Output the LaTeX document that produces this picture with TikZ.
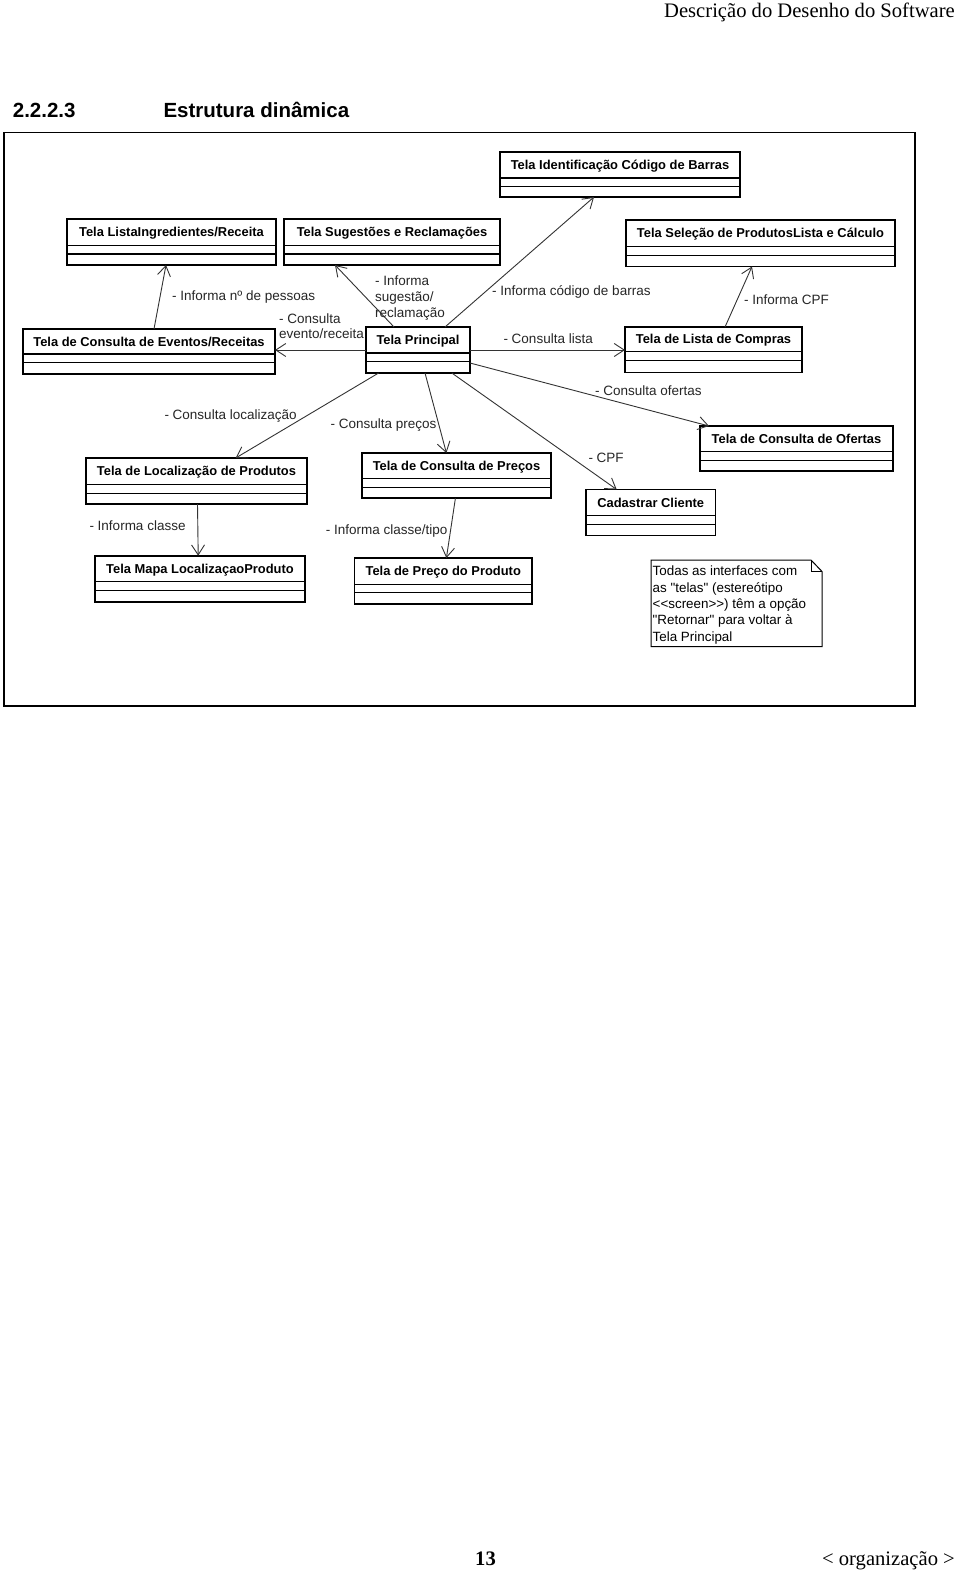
\documentclass[tikz,border=0pt]{standalone}
\usepackage{fontspec}
\setmainfont{Liberation Serif}
\newfontfamily\arialf{Liberation Sans}
\usetikzlibrary{arrows.meta,calc}
\newcommand\lblfont{\arialf\fontsize{13.5}{16}\selectfont}
\newcommand\ttlfont{\arialf\bfseries\fontsize{12.9}{15}\selectfont}
\newcommand\umlb[9][1.8pt]{%
  \node[umlbox, line width=#1, minimum width={(#5-#3)*1pt}, minimum height={(#6-#4)*1pt}] (#2) at (#3,#4) {};
  \draw[divline] ($(#2.north west)+(0,#7-#4)$) -- ($(#2.north east)+(0,#7-#4)$);
  \draw[divline] ($(#2.north west)+(0,#8-#4)$) -- ($(#2.north east)+(0,#8-#4)$);
  \node[ttl] (#2-t) at ({(#3+#5)/2},{(#4+#7)/2+4.6}) {#9};
}
\tikzset{
  umlbox/.style={draw=black, fill=white, inner sep=0pt, outer sep=0pt, anchor=north west},
  divline/.style={draw=black, line width=1.1pt},
  conn/.style={draw=black!80, line width=0.9pt, -{Straight Barb[length=10pt,width=13pt]}},
  lbl/.style={inner sep=0pt, anchor=base west, font=\lblfont, text=black!85},
  lblm/.style={inner sep=0pt, anchor=north west, font=\lblfont, text=black!85, align=left},
  ttl/.style={inner sep=0pt, anchor=base, font=\ttlfont},
}
\begin{document}
\begin{tikzpicture}[x=1pt,y=-1pt]
\useasboundingbox (0,0) rectangle (960,1573);
\fill[white] (0,0) rectangle (960,1573);

% page texts
\node[inner sep=0pt, anchor=base east, font=\fontsize{20.6}{24}\selectfont] (hdr) at (955,17.3) {Descrição do Desenho do Software};
\node[inner sep=0pt, anchor=base west, font=\arialf\bfseries\fontsize{20.5}{24}\selectfont] (secn) at (12.7,117.7) {2.2.2.3};
\node[inner sep=0pt, anchor=base west, font=\arialf\bfseries\fontsize{20.5}{24}\selectfont] (sect) at (163.3,117.7) {Estrutura dinâmica};
\node[inner sep=0pt, anchor=base west, font=\bfseries\fontsize{20.6}{24}\selectfont] (pgn) at (475,1565) {13};
\node[inner sep=0pt, anchor=base east, font=\fontsize{20.6}{24}\selectfont] (org) at (955,1565) {< organização >};

% frame
\draw[line width=1.3pt] (4,132.5) rectangle (915,706);

% boxes
\umlb{idc}{500}{152}{740}{197}{178}{186.5}{Tela Identificação Código de Barras}
\umlb{lig}{67}{219}{276}{265}{245.5}{254}{Tela ListaIngredientes/Receita}
\umlb{sug}{284}{219}{500}{265}{245.5}{254}{Tela Sugestões e Reclamações}
\umlb{sel}{626}{220}{895}{266.5}{246.5}{255.5}{Tela Seleção de ProdutosLista e Cálculo}
\umlb{eve}{23}{329}{275}{374}{354}{362.7}{Tela de Consulta de Eventos/Receitas}
\umlb[2.6pt]{prin}{366}{327}{470}{373}{353}{361.7}{Tela Principal}
\umlb{lis}{625}{327}{802}{372.5}{351.7}{360.7}{Tela de Lista de Compras}
\umlb{ofe}{700}{426}{893}{471}{451.5}{460.5}{Tela de Consulta de Ofertas}
\umlb{loc}{86}{458}{307}{504}{484.3}{493.3}{Tela de Localização de Produtos}
\umlb{cpr}{362}{453}{551}{498.3}{478.7}{487.3}{Tela de Consulta de Preços}
\umlb{cad}{586}{489.5}{715.5}{535.5}{515.7}{524.3}{Cadastrar Cliente}
\umlb{map}{95}{555.7}{305}{601.7}{581.7}{590.7}{Tela Mapa LocalizaçaoProduto}
\umlb{ppr}{354.5}{558}{532}{604.3}{584.3}{592.7}{Tela de Preço do Produto}

% note
\draw[line width=1pt, fill=white] (651,560) -- (811,560) -- (822,571.5) -- (822,646.5) -- (651,646.5) -- cycle;
\draw[line width=1pt] (811,560) -- (811,571.5) -- (822,571.5);
\node[lblm, text=black, font=\arialf\fontsize{13.4}{16.3}\selectfont] (note) at (652.5,566)
  {Todas as interfaces com\\as "telas" (estereótipo\\<<screen>>) têm a opção\\"Retornar" para voltar à\\Tela Principal};

% connectors
\draw[conn] ($(eve.north west)+(131,0)$) -- ($(lig.south west)+(99,0)$);
\draw[conn] ($(prin.north west)+(28,0)$) -- ($(sug.south west)+(51,0)$);
\draw[conn] (prin.west) -- (prin.west -| eve.east);
\draw[conn] ($(prin.north west)+(79,0)$) -- ($(idc.south west)+(94,0)$);
\draw[conn] (prin.east) -- (prin.east -| lis.west);
\draw[conn] ($(lis.north west)+(100,0)$) -- ($(sel.south west)+(126,0)$);
\draw[conn] ($(prin.north east)+(0,36)$) -- ($(ofe.north west)+(9,0)$);
\draw[conn] ($(prin.south west)+(59,0)$) -- ($(cpr.north west)+(84.4,0)$);
\draw[conn] ($(prin.south west)+(12.6,0)$) -- ($(loc.north west)+(149.7,0)$);
\draw[conn] ($(prin.south west)+(85.8,0)$) -- ($(cad.north west)+(30.7,0)$);
\draw[conn] ($(loc.south west)+(111.5,0)$) -- ($(map.north west)+(103.2,0)$);
\draw[conn] ($(cpr.south west)+(93.4,0)$) -- ($(ppr.north west)+(91.9,0)$);

% labels
\node[lbl] (l1) at (172,300.3) {- Informa nº de pessoas};
\node[lblm] (l2) at (375,275.6) {- Informa\\sugestão/\\reclamação};
\node[lblm, font=\arialf\fontsize{13.5}{15}\selectfont] (l3) at (279,313.9) {- Consulta\\evento/receita};
\node[lbl] (l4) at (492,295.8) {- Informa código de barras};
\node[lbl] (l5) at (503.3,343.3) {- Consulta lista};
\node[lbl] (l6) at (744,304.8) {- Informa CPF};
\node[lbl] (l7) at (595,395.5) {- Consulta ofertas};
\node[lbl] (l8) at (330.4,428.1) {- Consulta preços};
\node[lbl] (l9) at (164.3,419.1) {- Consulta localização};
\node[lbl] (l10) at (588.3,462.1) {- CPF};
\node[lbl] (l11) at (89.3,530.8) {- Informa classe};
\node[lbl] (l12) at (325.7,534.1) {- Informa classe/tipo};
\end{tikzpicture}
\end{document}
